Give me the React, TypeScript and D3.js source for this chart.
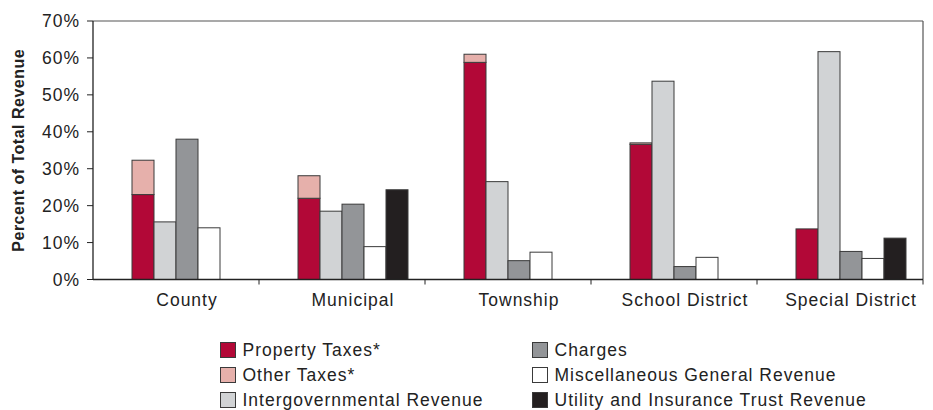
import React from "react";
import * as d3 from "d3";

const categories = ["County", "Municipal", "Township", "School District", "Special District"];
const propertyTaxes = [23.0, 22.0, 58.8, 36.6, 13.7];
const otherTaxes = [9.3, 6.1, 2.2, 0.4, 0];
const intergovernmental = [15.6, 18.5, 26.5, 53.7, 61.7];
const charges = [38.0, 20.4, 5.1, 3.5, 7.6];
const miscellaneous = [14.0, 8.9, 7.4, 6.0, 5.7];
const utility = [0, 24.3, 0, 0, 11.2];
const yTicks = [0, 10, 20, 30, 40, 50, 60, 70];

const legendItems = [
  { label: "Property Taxes*", color: "#b20837" },
  { label: "Other Taxes*", color: "#e6b0ab" },
  { label: "Intergovernmental Revenue", color: "#d1d3d5" },
  { label: "Charges", color: "#939598" },
  { label: "Miscellaneous General Revenue", color: "#ffffff" },
  { label: "Utility and Insurance Trust Revenue", color: "#231f20" },
];

const W = 933;
const H = 410;
const M = { left: 93, top: 21, right: 10, bottom: 130.5 };
const FONT = "'Liberation Sans', Arial, Helvetica, sans-serif";

export default function App() {
  const innerW = W - M.left - M.right;
  const innerH = H - M.top - M.bottom;
  const x0 = d3.scaleBand<string>().domain(categories).range([0, innerW]);
  const slots = ["blank", "prop", "inter", "charges", "misc", "utility"];
  const x1 = d3
    .scaleBand<string>()
    .domain(slots)
    .range([0, x0.bandwidth()])
    .paddingOuter(17 / 22);
  const y = d3.scaleLinear().domain([0, 70]).range([innerH, 0]);
  const bw = x1.bandwidth();
  const stroke = "#3a3a3a";

  const bars: any[] = [];
  categories.forEach((c, i) => {
    const bx = x0(c)!;
    const add = (slot: string, lo: number, hi: number, color: string, key: string) => {
      if (hi - lo <= 0) return;
      bars.push(
        <rect
          key={key + i}
          x={bx + x1(slot)!}
          y={y(hi)}
          width={bw}
          height={y(lo) - y(hi)}
          fill={color}
          stroke={stroke}
          strokeWidth={1}
        />
      );
    };
    add("prop", 0, propertyTaxes[i], legendItems[0].color, "p");
    add("prop", propertyTaxes[i], propertyTaxes[i] + otherTaxes[i], legendItems[1].color, "o");
    add("inter", 0, intergovernmental[i], legendItems[2].color, "g");
    add("charges", 0, charges[i], legendItems[3].color, "c");
    add("misc", 0, miscellaneous[i], legendItems[4].color, "m");
    add("utility", 0, utility[i], legendItems[5].color, "u");
  });

  const labelCenter = (x1("prop")! + x1("utility")! + bw) / 2;

  const legendCols = [220.5, 532.5];
  const legendRows = [342.5, 367.5, 392.5];

  return (
    <svg width={W} height={H} style={{ position: "absolute", left: 0, top: 0 }}>
      <rect x={0} y={0} width={W} height={H} fill="#ffffff" />
      <g transform={`translate(${M.left},${M.top})`} fontFamily={FONT}>
        {/* frame */}
        <line x1={0} x2={innerW} y1={0} y2={0} stroke="#555" strokeWidth={1.2} />
        <line x1={innerW} x2={innerW} y1={0} y2={innerH} stroke="#555" strokeWidth={1.2} />
        {bars}
        {/* axes */}
        <line x1={0} x2={0} y1={0} y2={innerH} stroke="#222" strokeWidth={1.3} />
        <line x1={0} x2={innerW} y1={innerH} y2={innerH} stroke="#222" strokeWidth={1.3} />
        {yTicks.map((t) => (
          <g key={t}>
            <line x1={-6} x2={0} y1={y(t)} y2={y(t)} stroke="#222" strokeWidth={1} />
            <text
              x={-13}
              y={y(t)}
              dy="0.36em"
              textAnchor="end"
              fontSize={17.5}
              letterSpacing={1}
              fill="#222"
            >
              {t}%
            </text>
          </g>
        ))}
        {categories.map((c, i) => (
          <g key={c}>
            <line
              x1={x0(c)! + x0.bandwidth()}
              x2={x0(c)! + x0.bandwidth()}
              y1={innerH}
              y2={innerH + 5}
              stroke="#222"
              strokeWidth={1}
            />
            <text
              x={x0(c)! + labelCenter}
              y={innerH + 26}
              textAnchor="middle"
              fontSize={17.5}
              letterSpacing={1}
              fill="#222"
            >
              {c}
            </text>
          </g>
        ))}
        <text
          transform={`translate(${-69},${innerH / 2}) rotate(-90)`}
          textAnchor="middle"
          fontSize={16}
          fontWeight="bold"
          letterSpacing={0.5}
          fill="#222"
        >
          Percent of Total Revenue
        </text>
      </g>
      <g fontFamily={FONT}>
        {legendItems.map((it, i) => {
          const col = Math.floor(i / 3);
          const row = i % 3;
          const lx = legendCols[col];
          const ly = legendRows[row];
          return (
            <g key={it.label}>
              <rect x={lx} y={ly} width={15} height={15} fill={it.color} stroke={stroke} strokeWidth={1} />
              <text x={lx + 22} y={ly + 13.5} fontSize={17.5} letterSpacing={1} fill="#222">
                {it.label}
              </text>
            </g>
          );
        })}
      </g>
    </svg>
  );
}
